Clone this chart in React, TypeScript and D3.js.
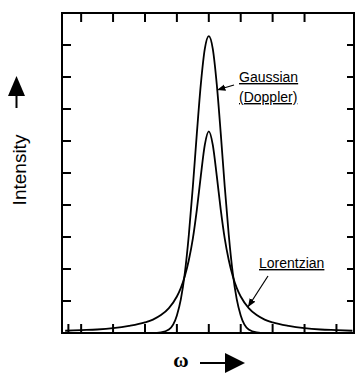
import * as d3 from "d3";

// ω (arbitrary units, line centre at 0) and intensities
const omega = [
  -4.5, -4, -3.5, -3, -2.5, -2, -1.75, -1.5, -1.25, -1, -0.875, -0.75, -0.625, -0.5, -0.375, -0.25, -0.125, 0,
  0.125, 0.25, 0.375, 0.5, 0.625, 0.75, 0.875, 1, 1.25, 1.5, 1.75, 2, 2.5, 3, 3.5, 4, 4.5,
];
const gaussian = [
  0, 0, 0, 0, 0, 0, 0, 0.02, 0.11, 0.55, 1.06, 1.88, 3.07, 4.57, 6.23, 7.77, 8.88, 9.28,
  8.88, 7.77, 6.23, 4.57, 3.07, 1.88, 1.06, 0.55, 0.11, 0.02, 0, 0, 0, 0, 0, 0, 0,
];
const lorentzian = [
  0.07, 0.09, 0.11, 0.15, 0.22, 0.33, 0.42, 0.56, 0.78, 1.14, 1.41, 1.78, 2.28, 2.95, 3.85, 4.91, 5.88, 6.3,
  5.88, 4.91, 3.85, 2.95, 2.28, 1.78, 1.41, 1.14, 0.78, 0.56, 0.42, 0.33, 0.22, 0.15, 0.11, 0.09, 0.07,
];
const topTicks = [-4, -3, -2, -1, 0, 1, 2, 3];
const bottomTicks = [-4.4, -4, -3, -2, -1, 0, 1, 2, 3, 4];
const yTicks = [1, 2, 3, 4, 5, 6, 7, 8, 9];

const W = 363;
const H = 380;
const M = { left: 62, right: 9, top: 13, bottom: 47 };
const TICK = 9;
const FONT = "Liberation Sans, Arial, sans-serif";

export default function App() {
  const x = d3.scaleLinear().domain([-4.6, 4.55]).range([M.left, W - M.right]);
  const y = d3.scaleLinear().domain([0, 10]).range([H - M.bottom, M.top]);
  const line = d3
    .line<number>()
    .x((_, i) => x(omega[i]))
    .y((d) => y(d))
    .curve(d3.curveMonotoneX);

  const x0 = x.range()[0];
  const x1 = x.range()[1];
  const y0 = y.range()[0];
  const y1 = y.range()[1];

  return (
    <svg
      width={W}
      height={H}
      style={{ position: "absolute", left: 0, top: 0, background: "#fff" }}
    >
      <defs>
        <marker id="ah" viewBox="0 0 10 10" refX="10" refY="5" markerWidth="7" markerHeight="7" orient="auto">
          <path d="M0,1 L10,5 L0,9 Z" fill="#000" />
        </marker>
      </defs>

      {/* ticks */}
      <g stroke="#000" strokeWidth={2}>
        {topTicks.map((t) => (
          <line key={"t" + t} x1={x(t)} x2={x(t)} y1={y1} y2={y1 + TICK} />
        ))}
        {bottomTicks.map((t) => (
          <line key={"b" + t} x1={x(t)} x2={x(t)} y1={y0} y2={y0 - TICK} />
        ))}
        {yTicks.map((t) => (
          <g key={"y" + t}>
            <line x1={x0} x2={x0 + TICK} y1={y(t)} y2={y(t)} />
            <line x1={x1} x2={x1 - 7} y1={y(t)} y2={y(t)} />
          </g>
        ))}
      </g>

      {/* curves */}
      <path d={line(lorentzian) ?? ""} fill="none" stroke="#000" strokeWidth={1.8} />
      <path d={line(gaussian) ?? ""} fill="none" stroke="#000" strokeWidth={1.8} />

      {/* frame */}
      <rect x={x0} y={y1} width={x1 - x0} height={y0 - y1} fill="none" stroke="#000" strokeWidth={2} />

      {/* annotations */}
      <g fontFamily={FONT} fontSize={14} fill="#000">
        <text x={239} y={82} textDecoration="underline">Gaussian</text>
        <text x={239} y={102} textDecoration="underline">(Doppler)</text>
        <text x={259} y={268} textDecoration="underline">Lorentzian</text>
      </g>
      <line x1={234} y1={85} x2={217} y2={90} stroke="#000" strokeWidth={1.2} markerEnd="url(#ah)" />
      <line x1={268} y1={276} x2={248} y2={307} stroke="#000" strokeWidth={1.2} markerEnd="url(#ah)" />

      {/* y axis label */}
      <text
        transform="translate(26,170) rotate(-90)"
        textAnchor="middle"
        fontFamily={FONT}
        fontSize={19}
      >
        Intensity
      </text>
      <line x1={16.5} x2={16.5} y1={108} y2={92} stroke="#000" strokeWidth={2} />
      <path d="M8,96 L16.5,76 L25,96 Z" fill="#000" />

      {/* x axis label */}
      <text x={181} y={367} textAnchor="middle" fontFamily="Liberation Serif, serif" fontSize={21} fontWeight="bold">
        ω
      </text>
      <line x1={200} x2={228} y1={363} y2={363} stroke="#000" strokeWidth={2} />
      <path d="M225,353 L245,363 L225,373 Z" fill="#000" />
    </svg>
  );
}
